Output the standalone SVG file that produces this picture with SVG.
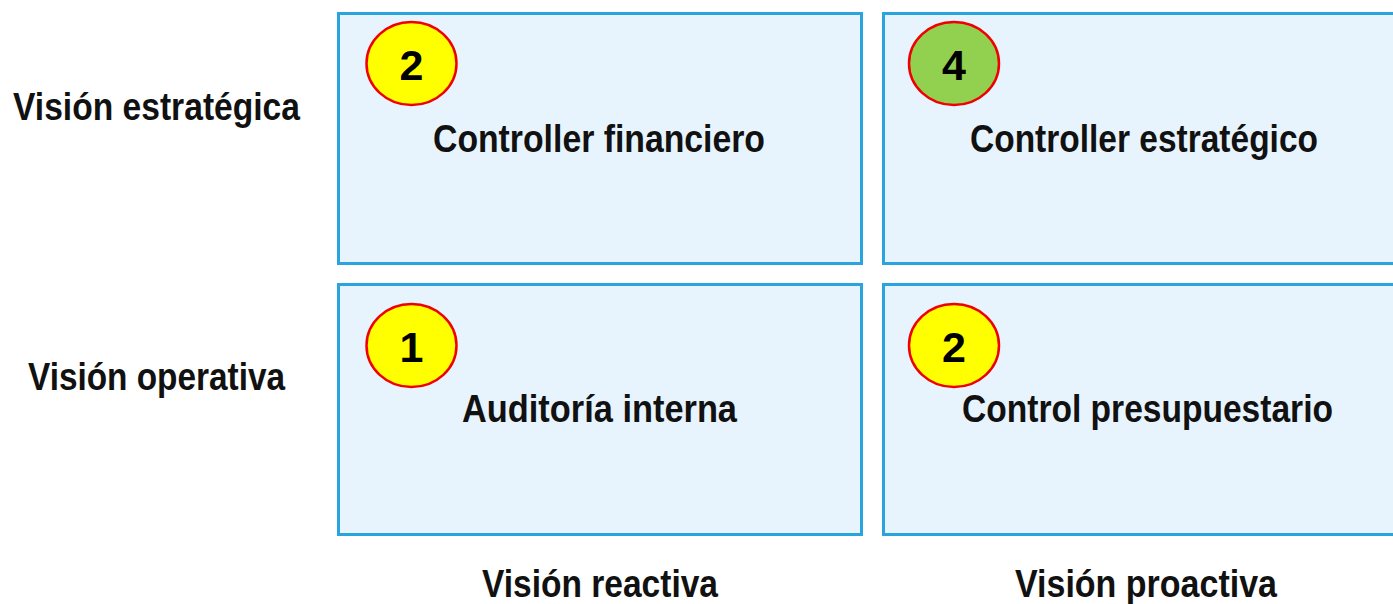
<svg xmlns="http://www.w3.org/2000/svg" width="1393" height="604" viewBox="0 0 1393 604">
<style>
.box{fill:#E8F4FD;stroke:#2AA4DF;stroke-width:3}
.badge{stroke:#F00000;stroke-width:2.5}
.y{fill:#FFFF00}
.g{fill:#92D050}
.t{font-family:"Liberation Sans",Arial,sans-serif;font-weight:bold;font-size:38px;fill:#111111}
.n{font-family:"Liberation Sans",Arial,sans-serif;font-weight:bold;font-size:43px;fill:#000;text-anchor:middle}
</style>
<rect width="1393" height="604" fill="#FFFFFF"/>
<g id="axis-labels">
<text class="t" x="13" y="120" textLength="287" lengthAdjust="spacingAndGlyphs">Visión estratégica</text>
<text class="t" x="28" y="390" textLength="257" lengthAdjust="spacingAndGlyphs">Visión operativa</text>
<text class="t" x="482" y="597" textLength="236" lengthAdjust="spacingAndGlyphs">Visión reactiva</text>
<text class="t" x="1015" y="597" textLength="262" lengthAdjust="spacingAndGlyphs">Visión proactiva</text>
</g>
<g id="node-controller-financiero">
<rect class="box" x="338.5" y="13.5" width="523" height="250"/>
<ellipse class="badge y" cx="411.5" cy="63.5" rx="45" ry="41.5"/>
<text class="n" x="411.5" y="80">2</text>
<text class="t" x="433" y="152" textLength="332" lengthAdjust="spacingAndGlyphs">Controller financiero</text>
</g>
<g id="node-controller-estrategico">
<rect class="box" x="883.5" y="13.5" width="600" height="250"/>
<ellipse class="badge g" cx="954" cy="63.5" rx="45" ry="41.5"/>
<text class="n" x="954" y="80">4</text>
<text class="t" x="970" y="152" textLength="348" lengthAdjust="spacingAndGlyphs">Controller estratégico</text>
</g>
<g id="node-auditoria-interna">
<rect class="box" x="338.5" y="284.5" width="523" height="250"/>
<ellipse class="badge y" cx="411.5" cy="345.5" rx="45" ry="41.5"/>
<text class="n" x="411.5" y="362">1</text>
<text class="t" x="462" y="422" textLength="275" lengthAdjust="spacingAndGlyphs">Auditoría interna</text>
</g>
<g id="node-control-presupuestario">
<rect class="box" x="883.5" y="284.5" width="600" height="250"/>
<ellipse class="badge y" cx="954" cy="345.5" rx="45" ry="41.5"/>
<text class="n" x="954" y="362">2</text>
<text class="t" x="962" y="422" textLength="371" lengthAdjust="spacingAndGlyphs">Control presupuestario</text>
</g>
<g id="connectors"/>
</svg>
